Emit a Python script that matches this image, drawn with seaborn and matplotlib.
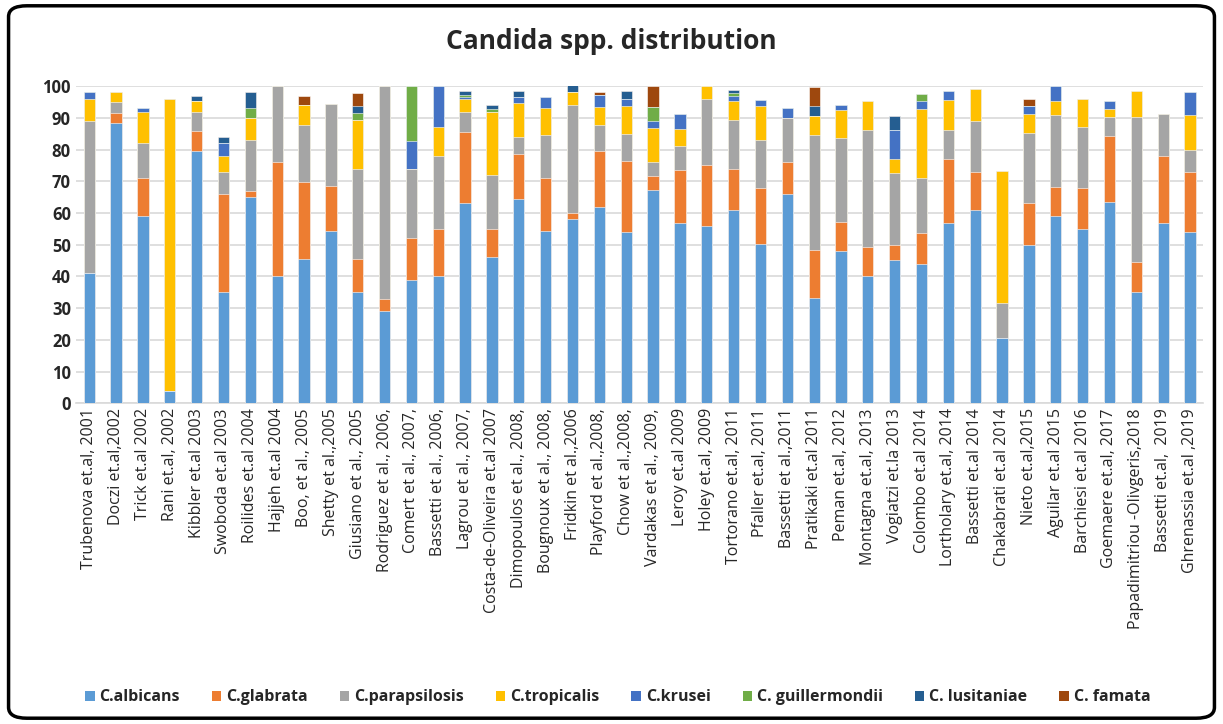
import matplotlib
matplotlib.use("Agg")
import matplotlib.pyplot as plt
import seaborn as sns
import pandas as pd
import numpy as np
from matplotlib.patches import Patch, FancyBboxPatch

studies = [
    "Trubenova et.al, 2001", "Doczi et.al,2002", "Trick et.al 2002", "Rani et.al, 2002",
    "Kibbler et.al 2003", "Swoboda et.al 2003", "Roilides et.al 2004", "Hajjeh et.al 2004",
    "Boo, et al., 2005", "Shetty et al.,2005", "Giusiano et al., 2005", "Rodriguez et al., 2006,",
    "Comert et al., 2007,", "Bassetti et al., 2006,", "Lagrou et al., 2007,",
    "Costa-de-Oliveira et.al 2007", "Dimopoulos et al., 2008,", "Bougnoux et al., 2008,",
    "Fridkin et al.,2006", "Playford et al.,2008,", "Chow et al.,2008,", "Vardakas et al., 2009,",
    "Leroy et.al 2009", "Holey et.al, 2009", "Tortorano et.al, 2011", "Pfaller et.al, 2011",
    "Bassetti et al.,2011", "Pratikaki et.al 2011", "Peman et.al, 2012", "Montagna et.al, 2013",
    "Vogiatzi et.la 2013", "Colombo et.al 2014", "Lortholary et.al, 2014", "Bassetti et.al 2014",
    "Chakabrati et.al 2014", "Nieto et.al,2015", "Aguilar et.al 2015", "Barchiesi et.al 2016",
    "Goemaere et.al, 2017", "Papadimitriou -Olivgeris,2018", "Bassetti et.al,  2019",
    "Ghrenassia et.al ,2019",
]

albicans = [41, 88.4, 59, 4, 79.4, 35, 65, 40, 45.5, 54.3, 35, 29, 39, 40, 63, 46, 64.3, 54.2,
            58, 62, 54, 67.4, 56.8, 56, 60.8, 50.3, 66, 33.2, 47.9, 40.1, 45.3, 43.9, 57, 61,
            20.7, 50, 59, 55, 63.4, 35, 57, 53.9]
glabrata = [0, 3.2, 12, 0, 6.4, 31, 2, 36, 24.2, 14.3, 10.6, 3.8, 13, 15, 22.5, 9, 14.2, 16.8,
            2, 17.7, 22.5, 4.2, 16.8, 19, 13.1, 17.5, 10, 15, 9.4, 9.1, 4.5, 9.8, 20.1, 12,
            0, 13.1, 9.1, 13, 21, 9.7, 21, 19]
parapsilosis = [48, 3.4, 11, 0, 6.2, 7, 16, 24, 18.2, 25.7, 28.4, 67.2, 22, 23, 6.3, 17, 5.5, 13.7,
                34, 8.1, 8.4, 4.4, 7.4, 21, 15.5, 15.2, 14.1, 36.4, 26.5, 36.9, 22.7, 17.4, 9.1, 16.1,
                11, 22.1, 22.7, 19.2, 6, 45.6, 13.2, 7.1]
tropicalis = [7, 3.2, 10, 92, 3.3, 5, 7, 0, 6.1, 0, 15.3, 0, 0, 9, 4.1, 20, 10.7, 8.5,
              4, 5.5, 8.9, 10.8, 5.4, 4, 6, 10.6, 0, 6.1, 8.6, 9.1, 4.5, 21.7, 9.3, 9.9,
              41.7, 6.1, 4.6, 8.9, 2.5, 8.2, 0, 10.9]
krusei = [2, 0, 1.2, 0, 0, 4, 0, 0, 0, 0, 0, 0, 8.6, 13, 0.6, 0, 1.8, 3.5,
          0, 4, 2.2, 2.2, 4.9, 0, 1.4, 1.9, 2.9, 0, 1.5, 0, 9.1, 2.6, 2.9, 0,
          0, 2.3, 4.5, 0, 2.3, 0, 0, 7.2]
guillermondii = [0, 0, 0, 0, 0, 0, 3, 0, 0, 0, 2.1, 0, 17.5, 0, 0.7, 0.7, 0, 0,
                 0, 0, 0, 4.4, 0, 0, 1, 0, 0, 0, 0, 0, 0, 2, 0, 0,
                 0, 0, 0, 0, 0, 0, 0, 0]
lusitaniae = [0, 0, 0, 0, 1.5, 2, 5, 0, 0, 0, 2.3, 0, 0, 0, 1.2, 1.2, 1.9, 0,
              2.4, 0, 2.6, 0, 0, 0, 1.1, 0, 0, 2.9, 0, 0, 4.5, 0, 0, 0,
              0, 0, 0, 0, 0, 0, 0, 0]
famata = [0, 0, 0, 0, 0, 0, 0, 0, 3, 0, 4.2, 0, 0, 0, 0, 0, 0, 0,
          0, 0.8, 0, 6.6, 0, 0, 0, 0, 0, 6.1, 0, 0, 0, 0, 0, 0,
          0, 2.2, 0, 0, 0, 0, 0, 0]

species = ["C.albicans", "C.glabrata", "C.parapsilosis", "C.tropicalis", "C.krusei",
           "C. guillermondii", "C. lusitaniae", "C. famata"]
colors = ["#5B9BD5", "#ED7D31", "#A5A5A5", "#FFC000", "#4472C4", "#70AD47", "#255E91", "#9E480E"]

df = pd.DataFrame(dict(zip(species, [albicans, glabrata, parapsilosis, tropicalis, krusei,
                                     guillermondii, lusitaniae, famata])))
df["study"] = studies
cum = df[species].cumsum(axis=1)
cum["study"] = studies

sns.set_style("white")
plt.rcParams["font.family"] = ["Open Sans", "DejaVu Sans"]

fig = plt.figure(figsize=(12.23, 7.24), dpi=100)
ax = fig.add_axes([0.062, 0.443, 0.922, 0.438])

# stacked bars: draw cumulative totals from the top series down
for sp, col in reversed(list(zip(species, colors))):
    sns.barplot(data=cum, x="study", y=sp, color=col, width=0.42, saturation=1,
                edgecolor="white", linewidth=0.4, ax=ax, zorder=3)

ax.set_ylim(0, 100)
ax.set_xlim(-0.5, len(studies) - 0.5)
ax.set_yticks(range(0, 101, 10))
ax.yaxis.grid(True, color="#D9D9D9", linewidth=1.2, zorder=0)
ax.set_axisbelow(True)
for s in ["top", "right", "left"]:
    ax.spines[s].set_visible(False)
ax.spines["bottom"].set_color("#D9D9D9")
ax.spines["bottom"].set_linewidth(1.2)
ax.set_xlabel("")
ax.set_ylabel("")
ax.tick_params(axis="both", length=0)
ax.set_xticks(range(len(studies)))
ax.set_xticklabels(studies, rotation=90, fontsize=11.5)
for lbl in ax.get_yticklabels():
    lbl.set_fontsize(12)
    lbl.set_fontweight("bold")

fig.text(0.5, 0.943, "Candida spp. distribution", ha="center", va="center",
         fontsize=19, fontweight="bold")

handles = [Patch(facecolor=c, edgecolor="none", label=s) for s, c in zip(species, colors)]
fig.legend(handles=handles, loc="center", bbox_to_anchor=(0.505, 0.037), ncol=8, frameon=False,
           prop={"weight": "bold", "size": 11.5}, handlelength=0.6, handleheight=0.6,
           handletextpad=0.3, columnspacing=2.0)

border = FancyBboxPatch((0.007, 0.008), 0.986, 0.984, boxstyle="round,pad=0,rounding_size=0.015",
                        transform=fig.transFigure, fill=False, edgecolor="black", linewidth=2.5)
fig.patches.append(border)

fig.savefig("out.png", dpi=100)
